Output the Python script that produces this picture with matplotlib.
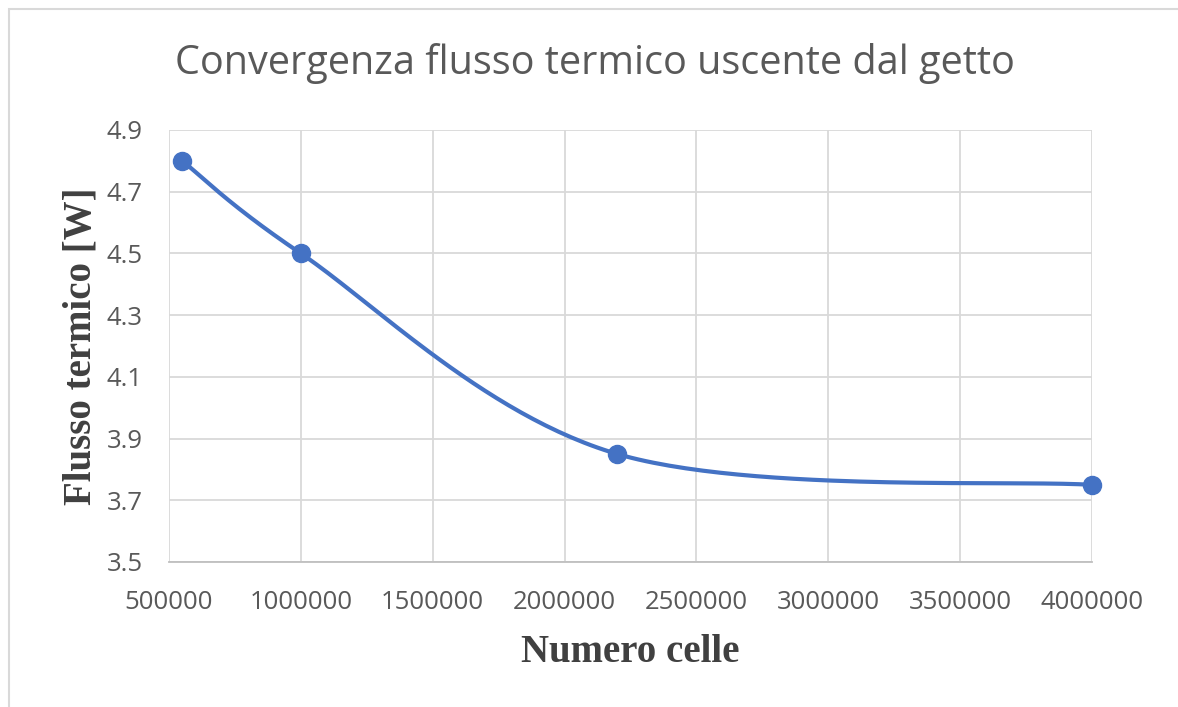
import numpy as np
import matplotlib.pyplot as plt
from matplotlib.patches import Rectangle
from matplotlib.ticker import FixedLocator

# data
n_cells = [550000, 1000000, 2200000, 4000000]
heat_flux = [4.8, 4.5, 3.85, 3.75]
x_ticks = [500000, 1000000, 1500000, 2000000, 2500000, 3000000, 3500000, 4000000]
y_ticks = [3.5, 3.7, 3.9, 4.1, 4.3, 4.5, 4.7, 4.9]

blue = '#4472C4'
grey_txt = '#595959'
grid_col = '#d9d9d9'

fig = plt.figure(figsize=(11.78, 7.07), dpi=100)
ax = fig.add_axes([169/1178, 1 - 562/707, (1092-169)/1178, (562-130)/707])

xlim = (x_ticks[0], x_ticks[-1])
ylim = (y_ticks[0], y_ticks[-1])
ax.set_xlim(*xlim)
ax.set_ylim(*ylim)


def smooth(xs, ys, n=60):
    # excel-like smoothed line: catmull-rom bezier done in axes-fraction space
    px = (np.asarray(xs, float) - xlim[0]) / (xlim[1] - xlim[0]) * 923
    py = (np.asarray(ys, float) - ylim[0]) / (ylim[1] - ylim[0]) * 432
    P = np.column_stack([px, py])
    out = []
    t = np.linspace(0, 1, n)[:, None]
    for i in range(len(P) - 1):
        p0 = P[i - 1] if i > 0 else P[i]
        p1, p2 = P[i], P[i + 1]
        p3 = P[i + 2] if i + 2 < len(P) else P[i + 1]
        c1 = p1 + (p2 - p0) / 6
        c2 = p2 - (p3 - p1) / 6
        seg = (1-t)**3*p1 + 3*(1-t)**2*t*c1 + 3*(1-t)*t**2*c2 + t**3*p2
        out.append(seg)
    seg = np.vstack(out)
    sx = seg[:, 0] / 923 * (xlim[1] - xlim[0]) + xlim[0]
    sy = seg[:, 1] / 432 * (ylim[1] - ylim[0]) + ylim[0]
    return sx, sy


sx, sy = smooth(n_cells, heat_flux)
ax.plot(sx, sy, color=blue, lw=3, solid_capstyle='round', zorder=3, clip_on=False)
ax.plot(n_cells, heat_flux, 'o', color=blue, ms=13, zorder=4, clip_on=False)

ax.xaxis.set_major_locator(FixedLocator(x_ticks))
ax.yaxis.set_major_locator(FixedLocator(y_ticks))
ax.set_xticklabels([str(v) for v in x_ticks])
ax.set_yticklabels([f'{v:.1f}' for v in y_ticks])
ax.grid(True, color=grid_col, lw=1.3)
ax.set_axisbelow(True)
for s in ax.spines.values():
    s.set_visible(False)
ax.spines['bottom'].set_visible(True)
ax.spines['bottom'].set_color('#bfbfbf')
ax.spines['bottom'].set_linewidth(1.3)
ax.tick_params(length=0, labelsize=18.5, labelcolor=grey_txt)
ax.tick_params(axis='x', pad=20)
ax.tick_params(axis='y', pad=19)
for lab in ax.get_xticklabels() + ax.get_yticklabels():
    lab.set_family('Open Sans')

ax.set_xlabel('Numero celle', fontsize=28, fontweight='bold',
              family='Liberation Serif', color='#404040', labelpad=14)
ax.set_ylabel('Flusso termico [W]', fontsize=28, fontweight='bold',
              family='Liberation Serif', color='#404040', labelpad=5)

fig.text(595/1178, 1 - 63/707, 'Convergenza flusso termico uscente dal getto',
         ha='center', va='center', fontsize=28.5, color=grey_txt, family='Open Sans')

# chart area border (cropped on right and bottom)
fig.patches.append(Rectangle((9/1178, -0.1), 1.2, 1 - 9/707 + 0.1,
                             transform=fig.transFigure, fill=False,
                             ec='#d9d9d9', lw=1.5))

fig.savefig('out.png', dpi=100)
